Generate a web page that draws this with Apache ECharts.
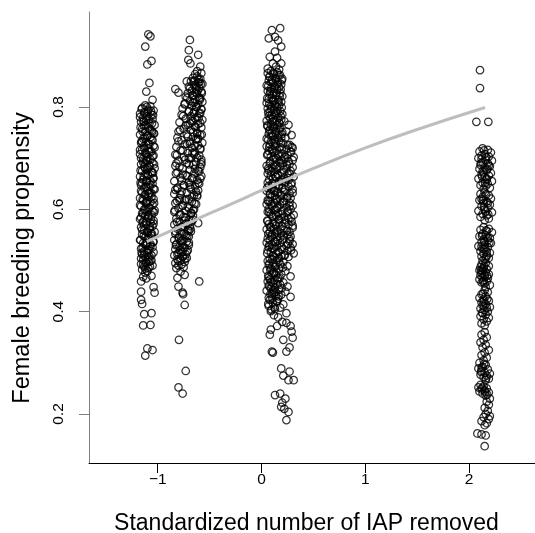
<!DOCTYPE html>
<html>
	<head>
		<meta charset="utf-8">
		<title>ECharts</title>
		<script src="https://cdn.jsdelivr.net/npm/echarts@6/dist/echarts.min.js"></script>
		<style>
			html, body { margin: 0; padding: 0; background: #fff; }
		</style>
	</head>
	<body>
		<div id="main" style="width: 535px;height:533px;"></div>
		<script type="text/javascript">
			var xTicks = [-1, 0, 1, 2];
			var yTicks = [0.2, 0.4, 0.6, 0.8];

			// column near -1.1
			var groupA = [
				[-1.12,0.803],[-1.07,0.801],[-1.15,0.798],[-1.09,0.795],[-1.04,0.793],[-1.13,0.790],[-1.17,0.787],[-1.06,0.785],[-1.10,0.782],[-1.14,0.779],
				[-1.05,0.776],[-1.11,0.774],[-1.16,0.771],[-1.08,0.768],[-1.03,0.765],[-1.13,0.763],[-1.09,0.760],[-1.15,0.757],[-1.06,0.754],[-1.12,0.752],
				[-1.04,0.749],[-1.17,0.746],[-1.10,0.743],[-1.07,0.741],[-1.14,0.738],[-1.05,0.735],[-1.11,0.732],[-1.16,0.730],[-1.08,0.727],[-1.13,0.724],
				[-1.03,0.721],[-1.09,0.719],[-1.15,0.716],[-1.06,0.713],[-1.12,0.710],[-1.17,0.708],[-1.04,0.705],[-1.10,0.702],[-1.14,0.699],[-1.07,0.697],
				[-1.11,0.694],[-1.05,0.691],[-1.16,0.688],[-1.08,0.686],[-1.13,0.683],[-1.03,0.680],[-1.10,0.677],[-1.15,0.675],[-1.06,0.672],[-1.12,0.669],
				[-1.09,0.666],[-1.17,0.664],[-1.04,0.661],[-1.14,0.658],[-1.07,0.655],[-1.11,0.653],[-1.05,0.650],[-1.16,0.647],[-1.08,0.644],[-1.13,0.642],
				[-1.03,0.639],[-1.10,0.636],[-1.15,0.633],[-1.06,0.631],[-1.12,0.628],[-1.09,0.625],[-1.17,0.622],[-1.04,0.620],[-1.14,0.617],[-1.07,0.614],
				[-1.11,0.611],[-1.05,0.609],[-1.16,0.606],[-1.08,0.603],[-1.13,0.600],[-1.03,0.598],[-1.10,0.595],[-1.15,0.592],[-1.06,0.589],[-1.12,0.587],
				[-1.09,0.584],[-1.17,0.581],[-1.04,0.578],[-1.14,0.576],[-1.07,0.573],[-1.11,0.570],[-1.05,0.567],[-1.16,0.565],[-1.08,0.562],[-1.13,0.559],
				[-1.03,0.556],[-1.10,0.554],[-1.15,0.551],[-1.06,0.548],[-1.12,0.545],[-1.09,0.543],[-1.17,0.540],[-1.04,0.537],[-1.14,0.534],[-1.07,0.532],
				[-1.11,0.529],[-1.05,0.526],[-1.16,0.523],[-1.08,0.521],[-1.13,0.518],[-1.10,0.515],[-1.15,0.512],[-1.06,0.510],[-1.12,0.507],[-1.09,0.504],
				[-1.14,0.501],[-1.07,0.499],[-1.11,0.496],[-1.16,0.493],[-1.05,0.490],[-1.13,0.488],[-1.09,0.485],[-1.15,0.482],[-1.10,0.479],[-1.12,0.476],
				[-1.095,0.792],[-1.135,0.772],[-1.055,0.751],[-1.155,0.733],[-1.085,0.712],[-1.125,0.691],[-1.045,0.671],[-1.165,0.652],[-1.075,0.632],[-1.115,0.613],
				[-1.035,0.594],[-1.145,0.574],[-1.065,0.553],[-1.105,0.534],[-1.155,0.515],[-1.085,0.497],
				[-1.105,0.800],[-1.155,0.796],[-1.065,0.792],[-1.125,0.788],[-1.045,0.784],[-1.170,0.780],[-1.085,0.776],[-1.135,0.772],[-1.055,0.768],[-1.115,0.764],
				[-1.165,0.760],[-1.075,0.756],[-1.145,0.752],[-1.035,0.748],[-1.095,0.744],[-1.125,0.740],[-1.060,0.736],[-1.150,0.732],[-1.090,0.728],[-1.040,0.724],
				[-1.130,0.720],[-1.170,0.716],[-1.070,0.712],[-1.110,0.708],[-1.050,0.704],[-1.160,0.700],[-1.100,0.696],[-1.140,0.692],[-1.035,0.688],[-1.080,0.684],
				[-1.120,0.680],[-1.165,0.676],[-1.055,0.672],[-1.095,0.668],[-1.135,0.664],[-1.045,0.660],[-1.105,0.656],[-1.150,0.652],[-1.070,0.648],[-1.115,0.644],
				[-1.040,0.640],[-1.160,0.636],[-1.085,0.632],[-1.125,0.628],[-1.060,0.624],[-1.145,0.620],[-1.100,0.616],[-1.035,0.612],[-1.170,0.608],[-1.080,0.604],
				[-1.120,0.600],[-1.050,0.596],[-1.140,0.592],[-1.090,0.588],[-1.160,0.584],[-1.065,0.580],[-1.110,0.576],[-1.040,0.572],[-1.130,0.568],[-1.075,0.564],
				[-1.150,0.560],[-1.100,0.556],[-1.055,0.552],[-1.135,0.548],[-1.085,0.544],[-1.165,0.540],[-1.045,0.536],[-1.120,0.532],[-1.070,0.528],[-1.145,0.524],
				[-1.095,0.520],[-1.040,0.516],[-1.130,0.512],[-1.080,0.508],[-1.160,0.504],[-1.060,0.500],[-1.115,0.496],[-1.140,0.492],[-1.075,0.488],[-1.120,0.484],
				[-1.09,0.942],[-1.07,0.938],[-1.12,0.918],[-1.10,0.883],[-1.06,0.890],[-1.08,0.847],[-1.11,0.830],[-1.05,0.814],
				[-1.14,0.468],[-1.06,0.470],[-1.11,0.465],
				[-1.16,0.459],[-1.04,0.448],[-1.16,0.439],[-1.03,0.437],[-1.16,0.423],[-1.15,0.415],[-1.13,0.395],[-1.06,0.397],[-1.14,0.373],[-1.07,0.374],
				[-1.10,0.328],[-1.05,0.325],[-1.12,0.314]
			];

			// slanted column near -0.7
			var groupB = [
				[-0.62,0.860],[-0.66,0.857],[-0.59,0.855],[-0.64,0.852],[-0.68,0.850],[-0.61,0.847],[-0.57,0.845],[-0.65,0.842],[-0.70,0.840],[-0.60,0.837],
				[-0.63,0.835],[-0.67,0.832],[-0.58,0.830],[-0.71,0.827],[-0.62,0.825],[-0.66,0.822],[-0.73,0.820],[-0.59,0.817],[-0.64,0.815],[-0.69,0.812],
				[-0.57,0.810],[-0.74,0.807],[-0.61,0.805],[-0.67,0.802],[-0.63,0.800],[-0.76,0.797],[-0.58,0.795],[-0.70,0.792],[-0.65,0.790],[-0.60,0.787],
				[-0.77,0.785],[-0.68,0.782],[-0.62,0.780],[-0.73,0.777],[-0.57,0.775],[-0.66,0.772],[-0.79,0.770],[-0.61,0.767],[-0.71,0.765],[-0.64,0.762],
				[-0.58,0.760],[-0.75,0.757],[-0.68,0.755],[-0.80,0.752],[-0.62,0.750],[-0.72,0.747],[-0.59,0.745],[-0.66,0.742],[-0.81,0.740],[-0.63,0.737],
				[-0.77,0.735],[-0.69,0.732],[-0.57,0.730],[-0.74,0.727],[-0.61,0.725],[-0.82,0.722],[-0.67,0.720],[-0.59,0.717],[-0.78,0.715],[-0.64,0.712],
				[-0.71,0.710],[-0.83,0.707],[-0.60,0.705],[-0.75,0.702],[-0.68,0.700],[-0.58,0.697],[-0.80,0.695],[-0.63,0.692],[-0.72,0.690],[-0.66,0.687],
				[-0.83,0.685],[-0.59,0.682],[-0.76,0.680],[-0.69,0.677],[-0.61,0.675],[-0.81,0.672],[-0.65,0.670],[-0.73,0.667],[-0.58,0.665],[-0.78,0.662],
				[-0.67,0.660],[-0.62,0.657],[-0.84,0.655],[-0.70,0.652],[-0.60,0.650],[-0.75,0.647],[-0.64,0.645],[-0.81,0.642],[-0.68,0.640],[-0.61,0.637],
				[-0.77,0.635],[-0.72,0.632],[-0.84,0.630],[-0.65,0.627],[-0.62,0.625],[-0.79,0.622],[-0.70,0.620],[-0.74,0.617],[-0.67,0.615],[-0.83,0.612],
				[-0.63,0.610],[-0.76,0.607],[-0.71,0.605],[-0.80,0.602],[-0.65,0.600],[-0.73,0.597],[-0.84,0.595],[-0.68,0.592],[-0.78,0.590],[-0.66,0.587],
				[-0.75,0.585],[-0.82,0.582],[-0.70,0.580],[-0.67,0.577],[-0.79,0.575],[-0.73,0.572],[-0.84,0.570],[-0.69,0.567],[-0.76,0.565],[-0.81,0.562],
				[-0.71,0.560],[-0.68,0.557],[-0.78,0.555],[-0.83,0.552],[-0.73,0.550],[-0.70,0.547],[-0.80,0.545],[-0.75,0.542],[-0.84,0.540],[-0.72,0.537],
				[-0.77,0.535],[-0.82,0.532],[-0.70,0.530],[-0.79,0.527],[-0.74,0.525],[-0.83,0.522],[-0.71,0.520],[-0.77,0.517],[-0.80,0.515],[-0.73,0.512],
				[-0.84,0.510],[-0.76,0.507],[-0.72,0.505],[-0.81,0.502],[-0.78,0.500],[-0.74,0.497],[-0.83,0.495],[-0.77,0.492],[-0.80,0.490],[-0.75,0.487],
				[-0.82,0.485],
				[-0.60,0.848],[-0.63,0.828],[-0.66,0.808],[-0.59,0.788],[-0.69,0.768],[-0.62,0.748],[-0.72,0.728],[-0.65,0.708],[-0.58,0.688],[-0.76,0.668],
				[-0.69,0.648],[-0.62,0.628],[-0.79,0.618],[-0.66,0.598],[-0.74,0.578],[-0.70,0.558],[-0.78,0.538],[-0.76,0.518],[-0.60,0.818],[-0.64,0.778],
				[-0.61,0.738],[-0.70,0.700],[-0.59,0.660],[-0.82,0.690],[-0.81,0.640],
				[-0.605,0.854],[-0.655,0.850],[-0.585,0.845],[-0.635,0.841],[-0.690,0.836],[-0.615,0.832],[-0.575,0.827],[-0.665,0.823],[-0.715,0.818],[-0.595,0.814],
				[-0.645,0.809],[-0.740,0.805],[-0.625,0.800],[-0.580,0.796],[-0.700,0.791],[-0.655,0.787],[-0.755,0.782],[-0.605,0.778],[-0.680,0.773],[-0.590,0.769],
				[-0.730,0.764],[-0.635,0.760],[-0.785,0.755],[-0.660,0.751],[-0.575,0.746],[-0.710,0.742],[-0.615,0.737],[-0.800,0.733],[-0.690,0.728],[-0.645,0.724],
				[-0.590,0.719],[-0.760,0.715],[-0.665,0.710],[-0.815,0.706],[-0.620,0.701],[-0.735,0.697],[-0.580,0.692],[-0.700,0.688],[-0.790,0.683],[-0.640,0.679],
				[-0.600,0.674],[-0.825,0.670],[-0.715,0.665],[-0.665,0.661],[-0.770,0.656],[-0.610,0.652],[-0.745,0.647],[-0.690,0.643],[-0.830,0.638],[-0.630,0.634],
				[-0.780,0.629],[-0.670,0.625],[-0.725,0.620],[-0.815,0.616],[-0.645,0.611],[-0.760,0.607],[-0.700,0.602],[-0.835,0.598],[-0.675,0.593],[-0.790,0.589],
				[-0.735,0.584],[-0.660,0.580],[-0.815,0.575],[-0.710,0.571],[-0.770,0.566],[-0.685,0.562],[-0.830,0.557],[-0.745,0.553],[-0.715,0.548],[-0.795,0.544],
				[-0.765,0.539],[-0.700,0.535],[-0.825,0.530],[-0.750,0.526],[-0.785,0.521],[-0.720,0.517],[-0.810,0.512],[-0.760,0.508],[-0.735,0.503],[-0.800,0.499],
				[-0.69,0.931],[-0.70,0.911],[-0.61,0.902],[-0.705,0.892],[-0.685,0.885],[-0.59,0.879],[-0.58,0.866],[-0.72,0.850],[-0.83,0.835],[-0.80,0.828],
				[-0.62,0.870],[-0.64,0.864],[-0.61,0.573],
				[-0.80,0.449],[-0.76,0.437],[-0.755,0.434],[-0.74,0.413],[-0.60,0.459],[-0.795,0.345],[-0.73,0.284],[-0.80,0.252],[-0.76,0.240],
				[-0.78,0.478],[-0.74,0.472],[-0.81,0.466]
			];

			// column near 0.15
			var groupC = [
				[0.09,0.870],[0.15,0.868],[0.06,0.866],[0.12,0.864],[0.18,0.862],[0.08,0.859],[0.14,0.857],[0.20,0.855],[0.10,0.853],[0.07,0.851],
				[0.16,0.849],[0.11,0.847],[0.19,0.844],[0.05,0.842],[0.13,0.840],[0.17,0.838],[0.09,0.836],[0.15,0.834],[0.06,0.831],[0.12,0.829],
				[0.18,0.827],[0.08,0.825],[0.14,0.823],[0.20,0.821],[0.10,0.818],[0.07,0.816],[0.16,0.814],[0.11,0.812],[0.19,0.810],[0.05,0.808],
				[0.13,0.805],[0.17,0.803],[0.09,0.801],[0.15,0.799],[0.06,0.797],[0.12,0.795],[0.18,0.792],[0.08,0.790],[0.14,0.788],[0.20,0.786],
				[0.10,0.784],[0.07,0.782],[0.16,0.779],[0.11,0.777],[0.19,0.775],[0.05,0.773],[0.13,0.771],[0.17,0.769],[0.09,0.766],[0.15,0.764],
				[0.06,0.762],[0.12,0.760],[0.18,0.758],[0.08,0.756],[0.14,0.753],[0.20,0.751],[0.10,0.749],[0.07,0.747],[0.16,0.745],[0.11,0.743],
				[0.19,0.740],[0.05,0.738],[0.13,0.736],[0.17,0.734],[0.09,0.732],
				[0.115,0.866],[0.165,0.862],[0.075,0.859],[0.135,0.855],[0.195,0.852],[0.095,0.848],[0.155,0.845],[0.065,0.841],[0.125,0.838],[0.185,0.834],
				[0.085,0.831],[0.145,0.827],[0.105,0.824],[0.175,0.820],[0.055,0.817],[0.115,0.813],[0.165,0.810],[0.075,0.806],[0.135,0.803],[0.195,0.799],
				[0.095,0.796],[0.155,0.792],[0.065,0.789],[0.125,0.785],[0.185,0.782],[0.085,0.778],[0.145,0.775],[0.105,0.771],[0.175,0.768],[0.055,0.764],
				[0.115,0.761],[0.165,0.757],[0.075,0.754],[0.135,0.750],[0.195,0.747],[0.095,0.743],[0.155,0.740],[0.065,0.736],[0.125,0.733],[0.185,0.730],
				[0.26,0.765],[0.29,0.745],[0.29,0.722],[0.24,0.752],[0.22,0.772],[0.23,0.740],
				[0.21,0.729],[0.08,0.727],[0.27,0.726],[0.13,0.724],[0.05,0.723],[0.18,0.721],[0.30,0.720],[0.10,0.718],[0.24,0.717],[0.15,0.715],
				[0.07,0.714],[0.28,0.712],[0.12,0.711],[0.20,0.709],[0.06,0.708],[0.25,0.706],[0.16,0.705],[0.09,0.703],[0.31,0.702],[0.14,0.700],
				[0.22,0.699],[0.11,0.697],[0.19,0.696],[0.26,0.694],[0.17,0.693],
				[0.21,0.691],[0.08,0.690],[0.27,0.688],[0.13,0.687],[0.05,0.685],[0.18,0.684],[0.30,0.682],[0.10,0.681],[0.24,0.679],[0.15,0.678],
				[0.07,0.676],[0.28,0.675],[0.12,0.673],[0.20,0.672],[0.06,0.670],[0.25,0.669],[0.16,0.667],[0.09,0.666],[0.31,0.664],[0.14,0.663],
				[0.22,0.661],[0.11,0.660],[0.19,0.658],[0.26,0.657],[0.17,0.655],
				[0.23,0.654],[0.06,0.652],[0.29,0.651],[0.11,0.649],[0.17,0.648],[0.07,0.646],[0.26,0.645],[0.14,0.643],[0.20,0.642],[0.09,0.640],
				[0.30,0.639],[0.12,0.637],[0.05,0.636],[0.22,0.634],[0.16,0.633],[0.27,0.631],[0.08,0.630],[0.19,0.628],[0.13,0.627],[0.25,0.625],
				[0.10,0.624],[0.28,0.622],[0.15,0.621],[0.18,0.619],[0.06,0.618],
				[0.21,0.616],[0.08,0.615],[0.27,0.613],[0.13,0.612],[0.05,0.610],[0.18,0.609],[0.30,0.607],[0.10,0.606],[0.24,0.604],[0.15,0.603],
				[0.07,0.601],[0.28,0.600],[0.12,0.598],[0.20,0.597],[0.06,0.595],[0.25,0.594],[0.16,0.592],[0.09,0.591],[0.31,0.589],[0.14,0.588],
				[0.22,0.586],[0.11,0.585],[0.19,0.583],[0.26,0.582],[0.17,0.580],
				[0.23,0.579],[0.06,0.577],[0.29,0.576],[0.11,0.574],[0.17,0.573],[0.07,0.571],[0.26,0.570],[0.14,0.568],[0.20,0.567],[0.09,0.565],
				[0.30,0.564],[0.12,0.562],[0.05,0.561],[0.22,0.559],[0.16,0.558],[0.27,0.556],[0.08,0.555],[0.19,0.553],[0.13,0.552],[0.25,0.550],
				[0.10,0.549],[0.28,0.547],[0.15,0.546],[0.18,0.544],[0.06,0.543],
				[0.21,0.541],[0.08,0.540],[0.27,0.538],[0.13,0.537],[0.05,0.535],[0.18,0.534],[0.30,0.532],[0.10,0.531],[0.24,0.529],[0.15,0.528],
				[0.07,0.526],[0.28,0.525],[0.12,0.523],[0.20,0.522],[0.06,0.520],[0.25,0.519],[0.16,0.517],[0.09,0.516],[0.31,0.514],[0.14,0.513],
				[0.22,0.511],[0.11,0.510],[0.19,0.508],[0.26,0.507],[0.17,0.505],
				[0.135,0.728],[0.255,0.725],[0.075,0.722],[0.195,0.718],[0.105,0.715],[0.285,0.712],[0.165,0.709],[0.055,0.706],[0.225,0.702],[0.125,0.699],
				[0.300,0.696],[0.085,0.693],[0.185,0.690],[0.245,0.686],[0.145,0.683],[0.065,0.680],[0.215,0.677],[0.095,0.674],[0.270,0.670],[0.155,0.667],
				[0.135,0.664],[0.255,0.661],[0.075,0.658],[0.195,0.654],[0.105,0.651],[0.285,0.648],[0.165,0.645],[0.055,0.642],[0.225,0.638],[0.125,0.635],
				[0.300,0.632],[0.085,0.629],[0.185,0.626],[0.245,0.622],[0.145,0.619],[0.065,0.616],[0.215,0.613],[0.095,0.610],[0.270,0.606],[0.155,0.603],
				[0.135,0.600],[0.255,0.597],[0.075,0.594],[0.195,0.590],[0.105,0.587],[0.285,0.584],[0.165,0.581],[0.055,0.578],[0.225,0.574],[0.125,0.571],
				[0.300,0.568],[0.085,0.565],[0.185,0.562],[0.245,0.558],[0.145,0.555],[0.065,0.552],[0.215,0.549],[0.095,0.546],[0.270,0.542],[0.155,0.539],
				[0.135,0.536],[0.255,0.533],[0.075,0.530],[0.195,0.526],[0.105,0.523],[0.285,0.520],[0.165,0.517],[0.055,0.514],[0.225,0.510],[0.125,0.507],
				[0.08,0.503],[0.15,0.501],[0.06,0.499],[0.21,0.497],[0.11,0.495],[0.18,0.493],[0.07,0.491],[0.25,0.489],[0.13,0.487],[0.09,0.485],
				[0.17,0.483],[0.05,0.481],[0.23,0.479],[0.12,0.477],[0.10,0.475],[0.19,0.473],[0.14,0.471],[0.28,0.469],[0.07,0.467],[0.16,0.465],
				[0.08,0.463],[0.15,0.461],[0.06,0.459],[0.21,0.457],[0.11,0.455],[0.18,0.453],[0.07,0.451],[0.25,0.449],[0.13,0.447],[0.09,0.445],
				[0.17,0.443],[0.05,0.441],[0.23,0.439],[0.12,0.437],[0.10,0.435],[0.19,0.433],[0.14,0.431],[0.28,0.429],[0.07,0.427],[0.16,0.425],
				[0.08,0.423],[0.15,0.420],[0.11,0.417],[0.21,0.414],[0.07,0.411],[0.18,0.408],[0.13,0.405],[0.09,0.401],[0.24,0.397],[0.12,0.393],
				[0.16,0.389],
				[0.105,0.502],[0.165,0.498],[0.075,0.494],[0.135,0.490],[0.205,0.486],[0.085,0.482],[0.145,0.478],[0.115,0.474],[0.065,0.470],[0.175,0.466],
				[0.125,0.462],[0.095,0.458],[0.155,0.454],[0.075,0.450],[0.195,0.446],[0.115,0.442],[0.135,0.438],[0.085,0.434],[0.165,0.430],[0.105,0.426],
				[0.145,0.420],[0.065,0.415],[0.125,0.409],[0.095,0.404],
				[0.11,0.320],[0.21,0.345],[0.29,0.361],[0.30,0.349],[0.24,0.322],[0.27,0.330],[0.19,0.289],[0.27,0.283],[0.26,0.266],[0.31,0.266],
				[0.13,0.237],[0.18,0.240],[0.23,0.230],[0.19,0.214],[0.26,0.204],[0.24,0.188],[0.10,0.322],[0.20,0.222],[0.22,0.210],[0.21,0.275],
				[0.15,0.372],[0.24,0.378],[0.09,0.365],[0.28,0.372],[0.20,0.380],[0.08,0.355],
				[0.18,0.954],[0.10,0.950],[0.07,0.934],[0.13,0.937],[0.16,0.930],[0.19,0.918],[0.13,0.908],[0.08,0.898],[0.15,0.896],[0.11,0.885],
				[0.19,0.885],[0.14,0.879],[0.06,0.875],[0.17,0.873]
			];

			// column near 2.15
			var groupD = [
				[2.105,0.872],[2.105,0.837],[2.07,0.771],[2.185,0.771],
				[2.13,0.719],[2.18,0.716],[2.10,0.713],[2.21,0.711],[2.15,0.708],[2.12,0.705],[2.19,0.703],[2.09,0.700],[2.16,0.697],[2.22,0.695],
				[2.13,0.692],[2.18,0.690],[2.11,0.687],[2.20,0.684],[2.15,0.682],[2.10,0.679],[2.17,0.676],[2.13,0.674],[2.21,0.671],[2.12,0.668],
				[2.19,0.666],[2.15,0.663],[2.09,0.660],[2.17,0.658],[2.22,0.655],[2.13,0.652],[2.18,0.650],[2.11,0.647],[2.16,0.645],[2.20,0.642],
				[2.14,0.640],[2.12,0.698],[2.19,0.686],[2.14,0.672],[2.17,0.660],
				[2.145,0.715],[2.165,0.702],[2.115,0.690],[2.175,0.679],[2.125,0.664],[2.155,0.651],
				[2.15,0.633],[2.11,0.630],[2.19,0.627],[2.13,0.624],[2.21,0.621],[2.10,0.618],[2.17,0.615],[2.14,0.612],[2.20,0.609],[2.12,0.606],
				[2.18,0.603],[2.15,0.600],[2.09,0.597],[2.22,0.594],[2.13,0.591],[2.17,0.588],[2.11,0.585],[2.19,0.582],[2.15,0.579],[2.12,0.620],
				[2.18,0.612],[2.16,0.596],
				[2.165,0.629],[2.135,0.617],[2.145,0.604],[2.185,0.590],
				[2.14,0.565],[2.19,0.562],[2.11,0.560],[2.17,0.557],[2.22,0.555],[2.13,0.552],[2.16,0.549],[2.10,0.547],[2.20,0.544],[2.14,0.541],
				[2.18,0.539],[2.12,0.536],[2.21,0.534],[2.15,0.531],[2.09,0.528],[2.18,0.526],[2.13,0.523],[2.16,0.521],[2.11,0.518],[2.20,0.515],
				[2.14,0.513],[2.17,0.510],[2.12,0.508],[2.19,0.505],[2.15,0.502],[2.13,0.500],[2.18,0.545],[2.15,0.537],[2.12,0.527],[2.17,0.517],
				[2.165,0.559],[2.125,0.548],[2.195,0.535],[2.145,0.523],[2.165,0.506],
				[2.16,0.495],[2.12,0.492],[2.19,0.489],[2.11,0.487],[2.14,0.485],[2.17,0.483],[2.10,0.481],[2.13,0.479],[2.16,0.477],[2.12,0.475],
				[2.19,0.473],[2.11,0.471],[2.15,0.469],[2.13,0.467],[2.18,0.465],[2.10,0.463],[2.14,0.461],[2.17,0.459],[2.12,0.457],[2.15,0.455],
				[2.20,0.452],[2.16,0.448],[2.13,0.484],[2.15,0.472],
				[2.145,0.489],[2.115,0.480],[2.175,0.470],[2.135,0.458],
				[2.15,0.442],[2.18,0.438],[2.12,0.434],[2.16,0.430],[2.10,0.427],[2.14,0.424],[2.19,0.421],[2.12,0.418],[2.16,0.415],[2.13,0.412],
				[2.20,0.409],[2.11,0.406],[2.15,0.403],[2.18,0.400],[2.13,0.397],[2.16,0.394],[2.11,0.391],[2.19,0.388],[2.14,0.385],[2.17,0.381],
				[2.12,0.377],[2.15,0.373],[2.14,0.420],[2.17,0.408],
				[2.135,0.435],[2.175,0.425],[2.145,0.410],[2.125,0.398],
				[2.15,0.360],[2.12,0.355],[2.17,0.350],[2.14,0.345],[2.11,0.340],[2.16,0.335],[2.13,0.330],[2.19,0.325],[2.15,0.320],[2.12,0.315],
				[2.17,0.310],[2.14,0.305],[2.10,0.300],[2.16,0.296],[2.13,0.292],[2.09,0.289],[2.18,0.287],[2.12,0.284],[2.15,0.281],[2.20,0.279],
				[2.11,0.277],[2.17,0.275],[2.14,0.272],[2.19,0.269],[2.16,0.266],[2.12,0.290],
				[2.145,0.298],[2.115,0.282],[2.165,0.270],
				[2.11,0.257],[2.14,0.254],[2.09,0.252],[2.17,0.250],[2.12,0.248],[2.15,0.246],[2.10,0.244],[2.19,0.242],[2.13,0.240],[2.16,0.236],
				[2.20,0.230],[2.17,0.224],[2.19,0.218],[2.15,0.212],[2.18,0.206],[2.16,0.200],[2.14,0.194],[2.19,0.190],[2.12,0.186],[2.17,0.182],
				[2.15,0.178],[2.20,0.196],
				[2.125,0.251],[2.155,0.243],[2.175,0.238],
				[2.08,0.162],[2.12,0.160],[2.16,0.158],[2.15,0.137]
			];

			// fitted curve
			var curveX = [-1.106, -0.75, -0.5, -0.25, 0, 0.5, 1, 1.5, 2.154];
			var curveY = [0.537, 0.569, 0.592, 0.614, 0.637, 0.680, 0.720, 0.756, 0.799];

			var myChart = echarts.init(document.getElementById('main'));
			var font = 'Liberation Sans, Arial, Helvetica, sans-serif';

			function pointSeries(data) {
				return {
					type: 'scatter',
					data: data,
					symbol: 'circle',
					symbolSize: 7.5,
					silent: true,
					itemStyle: {
						color: 'rgba(0,0,0,0)',
						borderColor: '#000',
						borderWidth: 1.25
					},
					z: 2
				};
			}

			var curveData = curveX.map(function (x, i) {
				return [x, curveY[i]];
			});

			var option = {
				animation: false,
				backgroundColor: '#fff',
				grid: {
					left: 89,
					right: 0,
					top: 12,
					bottom: 70,
					outerBoundsMode: 'none'
				},
				xAxis: {
					type: 'value',
					min: -1.662,
					max: 2.635,
					name: 'Standardized number of IAP removed',
					nameLocation: 'middle',
					nameGap: 49,
					nameTextStyle: { fontFamily: font, fontSize: 23, color: '#000', padding: [0, 11, 0, 0] },
					axisLine: { show: true, onZero: false, lineStyle: { color: '#000', width: 1 } },
					axisTick: { show: true, length: 10, customValues: xTicks, lineStyle: { color: '#000' } },
					axisLabel: {
						customValues: xTicks,
						margin: 9,
						fontFamily: font,
						fontSize: 15.5,
						color: '#000',
						formatter: function (v) {
							return v < 0 ? '\u2212' + (-v) : String(v);
						}
					},
					splitLine: { show: false }
				},
				yAxis: {
					type: 'value',
					min: 0.1042,
					max: 0.9856,
					name: 'Female breeding propensity',
					nameLocation: 'middle',
					nameRotate: 90,
					nameGap: 54,
					nameTextStyle: { fontFamily: font, fontSize: 23.5, color: '#000', padding: [0, 41, 0, 0] },
					axisLine: { show: true, onZero: false, lineStyle: { color: '#808080', width: 1 } },
					axisTick: { show: true, length: 10, customValues: yTicks, lineStyle: { color: '#808080' } },
					axisLabel: {
						customValues: yTicks,
						rotate: 90,
						margin: 22,
						fontFamily: font,
						fontSize: 15.5,
						color: '#000',
						formatter: function (v) {
							return String(v);
						}
					},
					splitLine: { show: false }
				},
				series: [
					pointSeries(groupA),
					pointSeries(groupB),
					pointSeries(groupC),
					pointSeries(groupD),
					{
						type: 'line',
						data: curveData,
						smooth: true,
						symbol: 'none',
						silent: true,
						lineStyle: { color: '#bebebe', width: 3 },
						z: 5
					}
				]
			};

			myChart.setOption(option);
		</script>
	</body>
</html>
